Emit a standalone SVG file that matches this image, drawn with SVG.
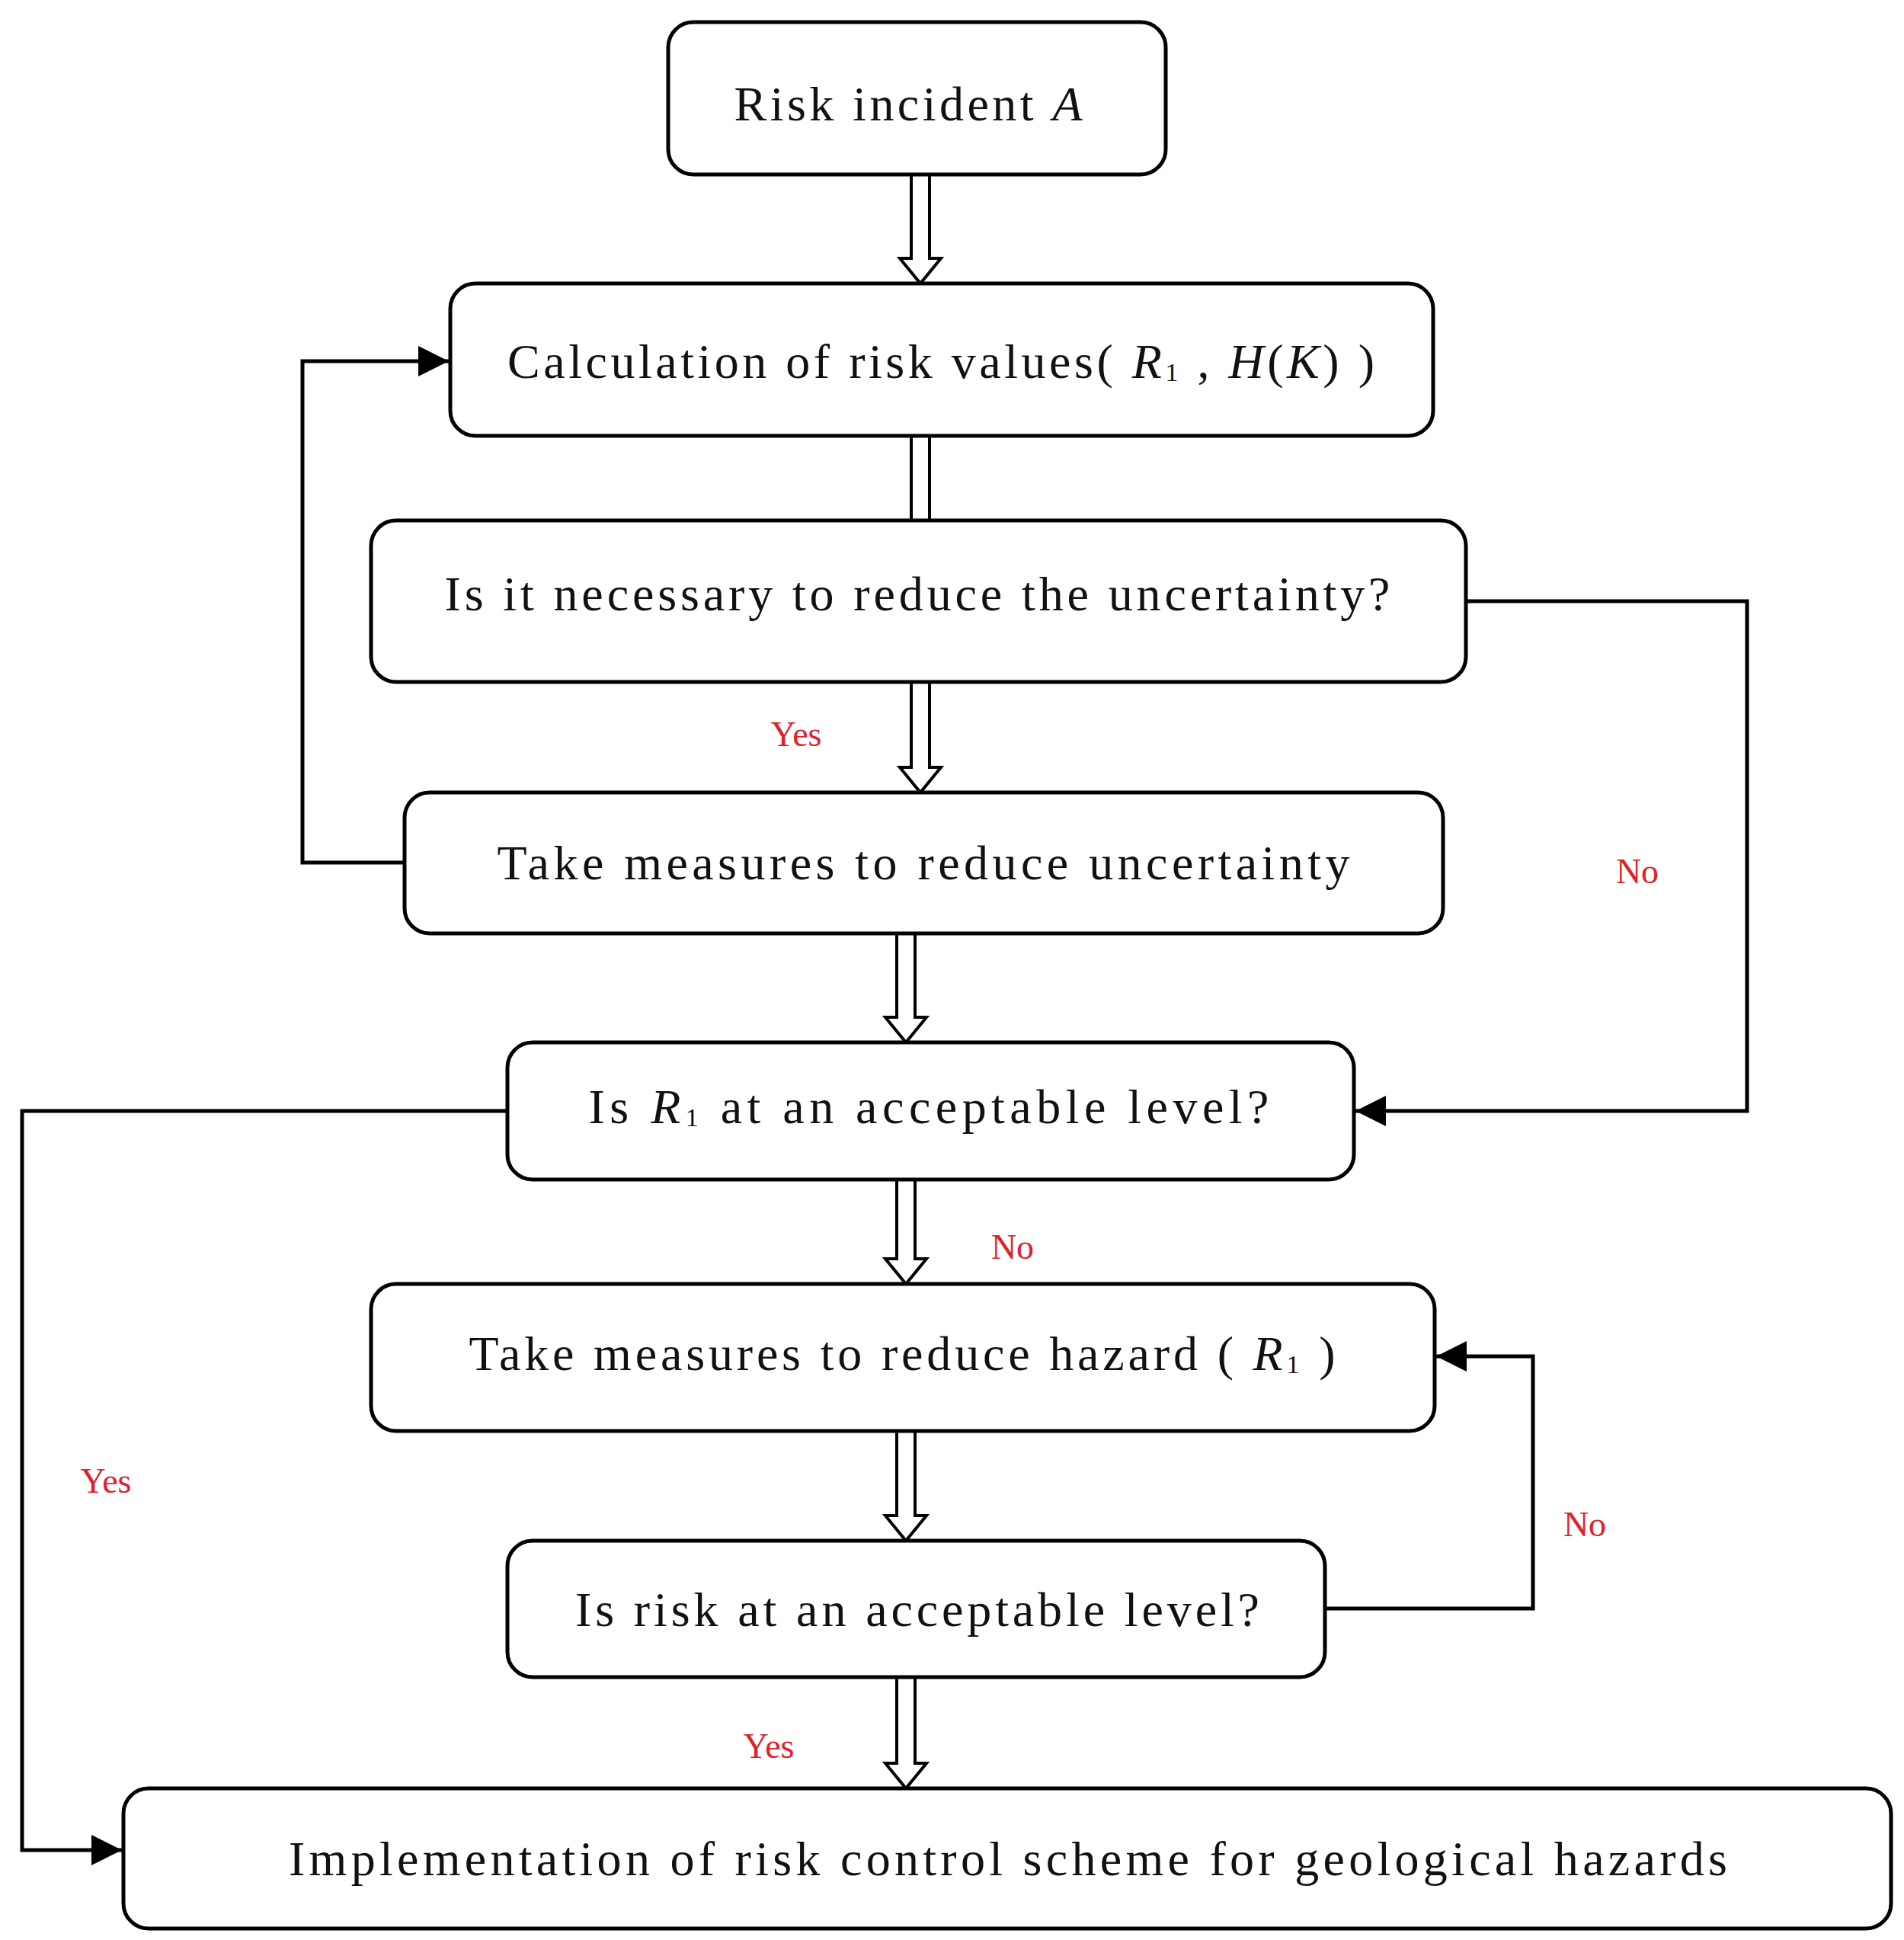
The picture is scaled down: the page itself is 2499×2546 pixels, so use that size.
<svg xmlns="http://www.w3.org/2000/svg" width="2499" height="2546" viewBox="0 0 2499 2546">
<style>
.b{fill:#fff;stroke:#000;stroke-width:5}
.t{font-family:"Liberation Serif",serif;font-size:64px;fill:#111;text-anchor:middle;dominant-baseline:central}
.i{font-style:italic}
.r{font-family:"Liberation Serif",serif;font-size:46px;fill:#e0202a;text-anchor:middle;dominant-baseline:central}
.l{fill:none;stroke:#000;stroke-width:5}
.h{fill:#fff;stroke:#000;stroke-width:4}
</style>
<defs><marker id="a" markerWidth="10" markerHeight="10" refX="9" refY="5" orient="auto" markerUnits="userSpaceOnUse" viewBox="0 0 10 10"><path d="M0,0L10,5L0,10z"/></marker>
<marker id="m" viewBox="0 0 10 10" refX="10" refY="5" markerWidth="40" markerHeight="40" markerUnits="userSpaceOnUse" orient="auto"><path d="M0,0L10,5L0,10z"/></marker></defs>
<g id="connectors">
<path class="h" d="M1196,229H1220V339H1235L1208,372L1181,339H1196Z"/>
<path class="h" d="M1196,572H1220V683H1196Z"/>
<path class="h" d="M1196,895H1220V1007H1235L1208,1040L1181,1007H1196Z"/>
<path class="h" d="M1177,1225H1201V1335H1216L1189,1368L1162,1335H1177Z"/>
<path class="h" d="M1177,1548H1201V1652H1216L1189,1685L1162,1652H1177Z"/>
<path class="h" d="M1177,1878H1201V1989H1216L1189,2022L1162,1989H1177Z"/>
<path class="h" d="M1177,2201H1201V2314H1216L1189,2347L1162,2314H1177Z"/>
<path class="l" d="M531,1132H397V474H589" marker-end="url(#m)"/>
<path class="l" d="M1924,789H2293V1458H1779" marker-end="url(#m)"/>
<path class="l" d="M666,1458H29V2428H160" marker-end="url(#m)"/>
<path class="l" d="M1739,2111H2012V1780H1885" marker-end="url(#m)"/>
</g>
<g id="n1"><rect class="b" x="877" y="29" width="653" height="200" rx="33"/><text class="t" x="1192" y="136" textLength="457">Risk incident <tspan class="i">A</tspan></text></g>
<g id="n2"><rect class="b" x="591" y="372" width="1290" height="200" rx="33"/><text class="t" x="1235" y="474" textLength="1138">Calculation of risk values( <tspan class="i">R</tspan><tspan font-size="34" dy="14">1</tspan><tspan dy="-14"> , </tspan><tspan class="i">H</tspan>(<tspan class="i">K</tspan>) )</text></g>
<g id="n3"><rect class="b" x="487" y="683" width="1437" height="212" rx="33"/><text class="t" x="1204" y="779" textLength="1241">Is it necessary to reduce the uncertainty?</text></g>
<g id="n4"><rect class="b" x="531" y="1040" width="1363" height="185" rx="33"/><text class="t" x="1212" y="1132" textLength="1119">Take measures to reduce uncertainty</text></g>
<g id="n5"><rect class="b" x="666" y="1368" width="1111" height="180" rx="33"/><text class="t" x="1219" y="1452" textLength="893">Is  <tspan class="i">R</tspan><tspan font-size="34" dy="14">1</tspan><tspan dy="-14">  at an acceptable level?</tspan></text></g>
<g id="n6"><rect class="b" x="487" y="1685" width="1396" height="193" rx="33"/><text class="t" x="1184" y="1776" textLength="1137">Take measures to reduce hazard ( <tspan class="i">R</tspan><tspan font-size="34" dy="14">1</tspan><tspan dy="-14"> )</tspan></text></g>
<g id="n7"><rect class="b" x="666" y="2022" width="1073" height="179" rx="33"/><text class="t" x="1204" y="2112" textLength="898">Is risk at an acceptable level?</text></g>
<g id="n8"><rect class="b" x="162" y="2347" width="2320" height="184" rx="33"/><text class="t" x="1323" y="2439" textLength="1888">Implementation of risk control scheme for geological hazards</text></g>
<g id="labels">
<text class="r" x="1045" y="963">Yes</text>
<text class="r" x="2149" y="1143">No</text>
<text class="r" x="1329" y="1636">No</text>
<text class="r" x="139" y="1943">Yes</text>
<text class="r" x="2080" y="2000">No</text>
<text class="r" x="1009" y="2291">Yes</text>
</g>
</svg>
